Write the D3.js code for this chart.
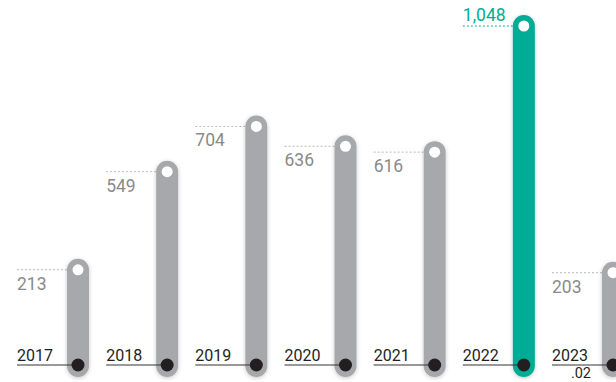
<!DOCTYPE html>
<html>
<head>
<meta charset="utf-8">
<script src="https://cdn.jsdelivr.net/npm/d3@7/dist/d3.min.js"></script>
<style>
  html, body { margin: 0; padding: 0; background: #fff; }
  svg { display: block; font-family: Roboto, "Noto Sans", sans-serif; }
</style>
</head>
<body>
<svg id="chart" width="616" height="382"></svg>
<script>
// Yearly values; 2023 is a partial year (through February)
const years = ["2017", "2018", "2019", "2020", "2021", "2022", "2023"];
const values = [213, 549, 704, 636, 616, 1048, 203];
const valueLabels = ["213", "549", "704", "636", "616", "1,048", "203"];
const highlightYear = "2022";
const yearSuffix = { "2023": ".02" };

const W = 616, H = 382;
const barW = 22;
const barBottom = 377;
const baseDotY = 365;

const svg = d3.select("#chart");

const defs = svg.append("defs");
const shadow = defs.append("filter")
  .attr("id", "barShadow")
  .attr("x", "-50%").attr("y", "-10%")
  .attr("width", "200%").attr("height", "120%");
shadow.append("feDropShadow")
  .attr("dx", 0).attr("dy", 1)
  .attr("stdDeviation", 2)
  .attr("flood-color", "#000")
  .attr("flood-opacity", 0.22);

const x = d3.scalePoint().domain(years).range([78, 613]);
const y = d3.scaleLinear().domain([0, 1048]).range([332, 26]);

const data = years.map((yr, i) => ({
  year: yr, value: values[i], label: valueLabels[i],
  hi: yr === highlightYear
}));

const grey = "#a7a8ab";
const teal = "#00ac96";
const labelOffset = 61;

const g = svg.selectAll("g.item").data(data).join("g").attr("class", "item");

// dashed leader from the value label to the top marker
g.append("line")
  .attr("x1", d => x(d.year) - labelOffset)
  .attr("x2", d => x(d.year) - barW / 2)
  .attr("y1", d => y(d.value))
  .attr("y2", d => y(d.value))
  .attr("stroke", d => d.hi ? teal : "#b8b8b8")
  .attr("stroke-width", 1)
  .attr("stroke-dasharray", "2,2");

// rounded bar
g.append("rect")
  .attr("x", d => x(d.year) - barW / 2)
  .attr("y", d => y(d.value) - barW / 2)
  .attr("width", barW)
  .attr("height", d => barBottom - (y(d.value) - barW / 2))
  .attr("rx", barW / 2)
  .attr("fill", d => d.hi ? teal : grey)
  .attr("filter", "url(#barShadow)");

// white marker at the value
g.append("circle")
  .attr("cx", d => x(d.year))
  .attr("cy", d => y(d.value))
  .attr("r", 5.5)
  .attr("fill", "#fff");

// value label
g.append("text")
  .attr("x", d => x(d.year) - labelOffset)
  .attr("y", d => d.hi ? y(d.value) - 5 : y(d.value) + 20)
  .attr("font-size", 17.5)
  .attr("fill", d => d.hi ? teal : "#8a8a8a")
  .text(d => d.label);

// baseline rule under year label
g.append("line")
  .attr("x1", d => x(d.year) - labelOffset)
  .attr("x2", d => x(d.year))
  .attr("y1", baseDotY)
  .attr("y2", baseDotY)
  .attr("stroke", "#333")
  .attr("stroke-width", 1);

// dark base marker
g.append("circle")
  .attr("cx", d => x(d.year))
  .attr("cy", baseDotY)
  .attr("r", 6.5)
  .attr("fill", "#231f20");

// year label
g.append("text")
  .attr("x", d => x(d.year) - labelOffset)
  .attr("y", baseDotY - 4)
  .attr("font-size", 16)
  .attr("fill", "#231f20")
  .text(d => d.year);

// month suffix under partial-year label
g.filter(d => yearSuffix[d.year])
  .append("text")
  .attr("x", d => x(d.year) - labelOffset + 39)
  .attr("y", 378)
  .attr("text-anchor", "end")
  .attr("font-size", 14.5)
  .attr("fill", "#231f20")
  .text(d => yearSuffix[d.year]);
</script>
</body>
</html>
